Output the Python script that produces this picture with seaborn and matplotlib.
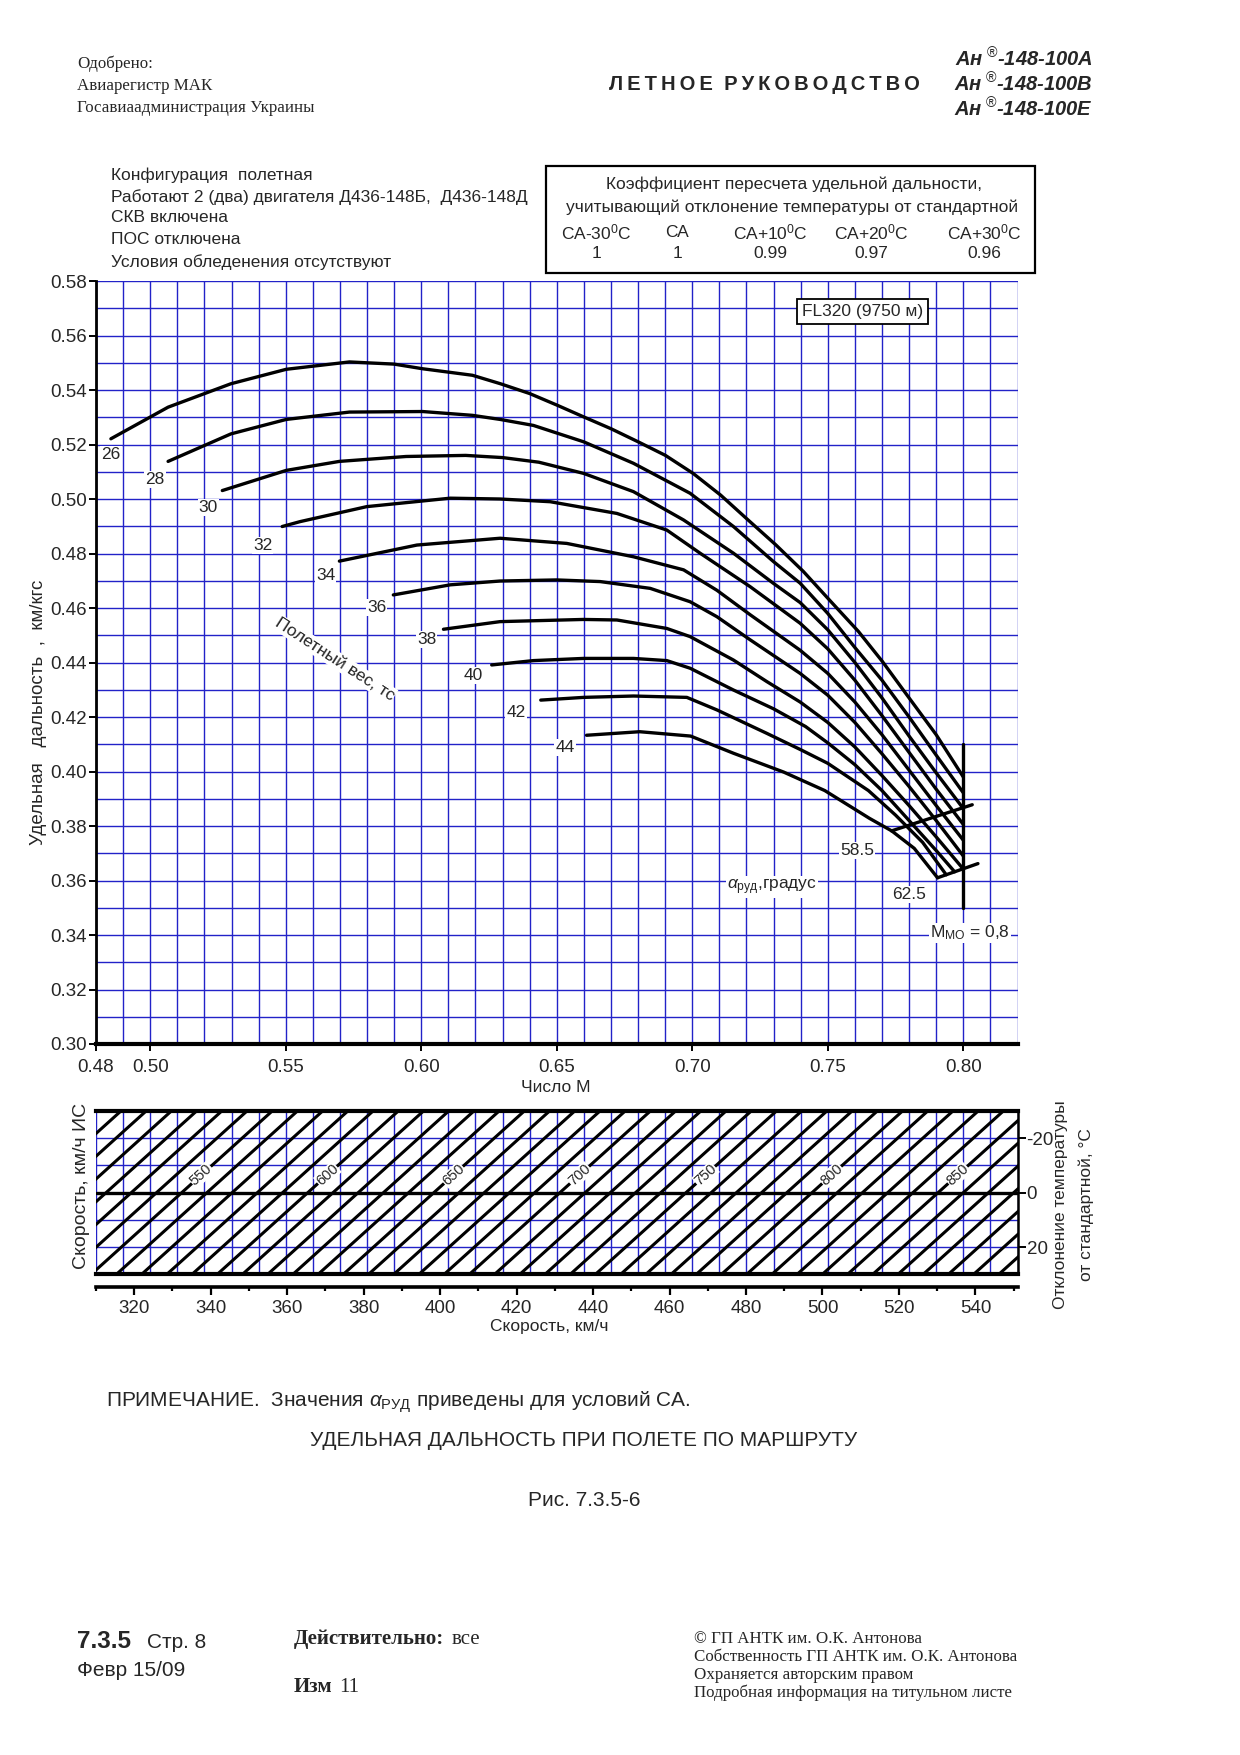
import numpy as np
import pandas as pd
import matplotlib
matplotlib.use("Agg")
import matplotlib.pyplot as plt
import seaborn as sns
from matplotlib.patches import Rectangle

# ---------------- data ----------------
weights = [26, 28, 30, 32, 34, 36, 38, 40, 42, 44]

m26 = [.4855, .5066, .5298, .5502, .5735, .5900, .6005, .6189, .6292, .6400, .6502, .6600, .6700, .6800,
       .6901, .7003, .7105, .7206, .7308, .7410, .7511, .7613, .7702, .7800, .7900, .8000]
s26 = [.5221, .5337, .5423, .5476, .5503, .5495, .5478, .5454, .5423, .5387, .5344, .5301, .5258, .5210,
       .5160, .5094, .5014, .4923, .4832, .4734, .4624, .4514, .4403, .4270, .4135, .3980]
m28 = [.5066, .5298, .5502, .5735, .6005, .6189, .6291, .6414, .6599, .6783, .6992, .7152, .7300, .7398,
       .7500, .7600, .7700, .7800, .7900, .8000]
s28 = [.5138, .5239, .5292, .5319, .5321, .5307, .5292, .5270, .5210, .5131, .5021, .4899, .4770, .4691,
       .4580, .4455, .4335, .4200, .4060, .3922]
m30 = [.5266, .5502, .5698, .5944, .6164, .6300, .6434, .6599, .6783, .6968, .7152, .7300, .7398, .7500,
       .7600, .7700, .7800, .7900, .8000]
s30 = [.5031, .5105, .5138, .5156, .5160, .5152, .5135, .5094, .5027, .4923, .4801, .4690, .4620, .4520,
       .4400, .4270, .4130, .3995, .3864]
m32 = [.5487, .5553, .5799, .6107, .6291, .6476, .6722, .6906, .7029, .7214, .7398, .7500, .7600, .7700,
       .7800, .7900, .8000]
s32 = [.4899, .4917, .4972, .5003, .5000, .4990, .4947, .4886, .4801, .4678, .4544, .4450, .4335, .4205,
       .4070, .3935, .3806]
m34 = [.5698, .5984, .6291, .6537, .6783, .6968, .7091, .7214, .7398, .7500, .7600, .7700, .7800, .7900, .8000]
s34 = [.4772, .4831, .4856, .4837, .4788, .4740, .4665, .4575, .4445, .4360, .4255, .4135, .4005, .3875, .3748]
m36 = [.5897, .6107, .6291, .6500, .6660, .6845, .6992, .7091, .7214, .7398, .7500, .7600, .7700, .7800,
       .7900, .8000]
s36 = [.4648, .4685, .4699, .4703, .4697, .4672, .4623, .4568, .4483, .4360, .4280, .4180, .4065, .3945,
       .3820, .3690]
m38 = [.6082, .6291, .6599, .6722, .6906, .6992, .7152, .7275, .7398, .7500, .7600, .7700, .7800, .7900, .8000]
s38 = [.4522, .4550, .4558, .4556, .4525, .4495, .4409, .4330, .4255, .4180, .4090, .3985, .3875, .3760, .3642]
m40 = [.6260, .6414, .6599, .6783, .6906, .6992, .7152, .7300, .7418, .7500, .7600, .7700, .7800, .7900, .7968]
s40 = [.4391, .4407, .4415, .4415, .4407, .4379, .4299, .4230, .4165, .4105, .4025, .3930, .3820, .3710, .3632]
m42 = [.6441, .6599, .6783, .6980, .7091, .7275, .7400, .7500, .7650, .7750, .7850, .7937]
s42 = [.4262, .4272, .4277, .4272, .4226, .4140, .4080, .4030, .3930, .3840, .3740, .3621]
m44 = [.6610, .6806, .6994, .7152, .7337, .7489, .7654, .7736, .7819, .7905]
s44 = [.4133, .4146, .4130, .4067, .3998, .3930, .3828, .3782, .3718, .3610]

curves_m = [m26, m28, m30, m32, m34, m36, m38, m40, m42, m44]
curves_s = [s26, s28, s30, s32, s34, s36, s38, s40, s42, s44]

# throttle (alpha RUD) lines and M_MO limit
alpha_values = ["58.5", "62.5"]
alpha585_m = [0.7735, 0.8033]
alpha585_sr = [0.3782, 0.3878]
alpha625_m = [0.7905, 0.8054]
alpha625_sr = [0.3610, 0.3662]
mmo_m = [0.80, 0.80]
mmo_sr = [0.35, 0.41]

mach_ticks = [0.48, 0.50, 0.55, 0.60, 0.65, 0.70, 0.75, 0.80]
sr_ticks = [0.30, 0.32, 0.34, 0.36, 0.38, 0.40, 0.42, 0.44, 0.46, 0.48, 0.50, 0.52, 0.54, 0.56, 0.58]

# true airspeed isolines (km/h) of the lower nomogram
tas_lines = [480, 490, 500, 510, 520, 530, 540, 550, 560, 570, 580, 590, 600, 610, 620, 630, 640, 650, 660,
             670, 680, 690, 700, 710, 720, 730, 740, 750, 760, 770, 780, 790, 800, 810, 820, 830, 840,
             850, 860, 870, 880, 890, 900, 910, 920]
tas_labels = [550, 600, 650, 700, 750, 800, 850]
TAS_PER_MACH = 1075.0      # km/h per unit Mach at standard temperature
MACH_PER_DEG = 0.001113    # horizontal shift of an isoline per degree of deviation
dT_ticks = [-20, 0, 20]
dT_minor = [-10, 10]
ias_ticks = [320, 340, 360, 380, 400, 420, 440, 460, 480, 500, 520, 540]
ias_minor = [310, 330, 350, 370, 390, 410, 430, 450, 470, 490, 510, 530, 550]

temp_headers = ["СА-30$^\\mathregular{0}$С", "СА", "СА+10$^\\mathregular{0}$С",
                "СА+20$^\\mathregular{0}$С", "СА+30$^\\mathregular{0}$С"]
temp_factors = ["1", "1", "0.99", "0.97", "0.96"]

config_lines = ["Конфигурация  полетная",
                "Работают 2 (два) двигателя Д436-148Б,  Д436-148Д",
                "СКВ включена",
                "ПОС отключена",
                "Условия обледенения отсутствуют"]

# ---------------- style ----------------
sns.set_theme(style="ticks")
plt.rcParams["font.family"] = ["Liberation Sans", "DejaVu Sans"]
plt.rcParams["mathtext.fontset"] = "custom"
plt.rcParams["mathtext.rm"] = "Liberation Sans"
plt.rcParams["mathtext.it"] = "Liberation Sans:italic"
plt.rcParams["mathtext.bf"] = "Liberation Sans:bold"
plt.rcParams["axes.unicode_minus"] = False

W, H = 1240, 1755
fig = plt.figure(figsize=(W / 100, H / 100), dpi=100)
fig.patch.set_facecolor("white")


def fx(x):
    return x / W


def fy(y):
    return 1 - y / H


BLUE = "#2222c8"
FS = 12.5
SERIF = ["Liberation Serif", "DejaVu Serif"]
L, R = 96, 1017.5

# ---------------- main chart ----------------
ax = fig.add_axes([fx(L), fy(1044), fx(R) - fx(L), (1044 - 281) / H])
rows = []
for w, ms, ss in zip(weights, curves_m, curves_s):
    for m, s in zip(ms, ss):
        rows.append((w, m, s))
df = pd.DataFrame(rows, columns=["w", "M", "SR"])
sns.lineplot(data=df, x="M", y="SR", units="w", estimator=None, sort=False,
             color="black", lw=2.4, ax=ax, legend=False, zorder=4)

ax.plot(alpha585_m, alpha585_sr, color="black", lw=2.4, zorder=4)
ax.plot(alpha625_m, alpha625_sr, color="black", lw=2.4, zorder=4)
ax.plot(mmo_m, mmo_sr, color="black", lw=2.4, zorder=4)

ax.set_xlim(0.48, 0.82)
ax.set_ylim(0.30, 0.58)
ax.set_xticks(mach_ticks)
ax.set_xticklabels([f"{t:.2f}" for t in mach_ticks])
ax.set_xticks(np.arange(0.48, 0.8205, 0.01), minor=True)
ax.set_yticks(sr_ticks)
ax.set_yticklabels([f"{t:.2f}" for t in sr_ticks])
ax.set_yticks(np.arange(0.30, 0.5805, 0.01), minor=True)
ax.grid(which="both", color=BLUE, lw=1.0)
ax.set_axisbelow(True)
ax.tick_params(which="minor", length=0)
ax.tick_params(which="major", direction="out", length=4.8, width=1.4, color="black", labelsize=13.5)
ax.tick_params(axis="x", which="major", pad=6)
ax.tick_params(axis="y", which="major", pad=2)
ax.set_xlabel("")
ax.set_ylabel("")
for sp in ["top", "right"]:
    ax.spines[sp].set_visible(False)
ax.spines["left"].set_linewidth(2.0)
ax.spines["bottom"].set_linewidth(3.0)
ax.spines["left"].set_color("black")
ax.spines["bottom"].set_color("black")

lab_box = dict(facecolor="white", edgecolor="none", pad=0.8)
label_pos = [(.4855, .5164), (.5018, .5073), (.5214, .4970), (.5415, .4831), (.5648, .4720),
             (.5836, .4602), (.6020, .4483), (.6192, .4352), (.6350, .4218), (.6531, .4087)]
for w, (lm, ls) in zip(weights, label_pos):
    ax.text(lm, ls, str(w), fontsize=FS, ha="center", va="center", bbox=lab_box, zorder=5)

ax.text(0.5680, 0.4413, "Полетный вес, тс", rotation=-33, fontsize=FS, ha="center", va="center",
        bbox=lab_box, zorder=5)
ax.text(0.7608, 0.3710, alpha_values[0], fontsize=FS, ha="center", va="center", bbox=lab_box, zorder=5)
ax.text(0.7799, 0.3550, alpha_values[1], fontsize=FS, ha="center", va="center", bbox=lab_box, zorder=5)
ax.text(0.7294, 0.3575, "$\\alpha_{\\mathregular{руд}}$,градус", fontsize=FS, ha="center", va="center",
        bbox=lab_box, zorder=5)
ax.text(0.8025, 0.3407, "М$_{\\mathregular{МО}}$ = 0,8", fontsize=FS, ha="center", va="center",
        bbox=lab_box, zorder=5)
ax.text(0.7627, 0.5687, "FL320 (9750 м)", fontsize=FS, ha="center", va="center",
        bbox=dict(facecolor="white", edgecolor="black", lw=1.3, pad=3.5), zorder=5)

# ---------------- temperature / TAS nomogram ----------------
ax2 = fig.add_axes([fx(L), fy(1274.3), fx(R) - fx(L), (1274.3 - 1111) / H])
rows2 = []
for v in tas_lines:
    for t in (-30.0, 30.0):
        rows2.append((v, v / TAS_PER_MACH - MACH_PER_DEG * t, t))
df2 = pd.DataFrame(rows2, columns=["TAS", "M", "dT"])
sns.lineplot(data=df2, x="M", y="dT", units="TAS", estimator=None, sort=False,
             color="black", lw=2.2, ax=ax2, legend=False, zorder=3)
ax2.set_xlim(0.48, 0.82)
ax2.set_ylim(30, -30)
ax2.set_xticks([])
ax2.set_xticks(np.arange(0.48, 0.8205, 0.01), minor=True)
ax2.set_yticks(dT_ticks)
ax2.set_yticklabels([str(t) for t in dT_ticks])
ax2.set_yticks(dT_minor, minor=True)
ax2.grid(which="both", color=BLUE, lw=1.0)
ax2.set_axisbelow(True)
ax2.axhline(0, color="black", lw=2.4, zorder=4)
ax2.yaxis.tick_right()
ax2.tick_params(axis="y", which="major", direction="out", length=5.5, width=1.4, color="black",
                labelsize=13.5, pad=1, right=True, left=False)
ax2.tick_params(which="minor", length=0)
ax2.tick_params(axis="x", bottom=False, top=False)
ax2.set_xlabel("")
ax2.set_ylabel("")
ax2.spines["left"].set_visible(False)
ax2.spines["top"].set_linewidth(3.0)
ax2.spines["bottom"].set_linewidth(3.0)
ax2.spines["right"].set_linewidth(1.8)
for sp in ["top", "bottom", "right"]:
    ax2.spines[sp].set_color("black")

for v in tas_labels:
    t0 = -6.5
    m0 = v / TAS_PER_MACH - MACH_PER_DEG * t0
    p1 = ax2.transData.transform((v / TAS_PER_MACH + MACH_PER_DEG * 20, -20))
    p2 = ax2.transData.transform((v / TAS_PER_MACH - MACH_PER_DEG * 20, 20))
    ang = np.degrees(np.arctan2(p1[1] - p2[1], p1[0] - p2[0]))
    ax2.text(m0, t0, str(v), rotation=ang, rotation_mode="anchor", fontsize=10.5,
             ha="center", va="center", bbox=dict(facecolor="white", edgecolor="none", pad=0.3), zorder=5)

# ---------------- IAS scale ----------------
ax3 = fig.add_axes([fx(L), fy(1287.3), fx(R) - fx(L), 0.001])
ax3.set_xlim(310.0, 551.0)
ax3.set_yticks([])
ax3.patch.set_visible(False)
for sp in ["top", "left", "right"]:
    ax3.spines[sp].set_visible(False)
ax3.spines["bottom"].set_linewidth(2.6)
ax3.spines["bottom"].set_color("black")
ax3.set_xticks(ias_ticks)
ax3.set_xticklabels([str(t) for t in ias_ticks])
ax3.set_xticks(ias_minor, minor=True)
ax3.tick_params(axis="x", which="major", direction="out", length=5.5, width=1.6, color="black",
                labelsize=13.5, pad=3.5)
ax3.tick_params(axis="x", which="minor", direction="out", length=3.0, width=1.6, color="black")

# ---------------- axis titles ----------------
fig.text(fx(39), fy(712), "Удельная   дальность  ,  км/кгс", rotation=90, fontsize=13.5,
         ha="center", va="center")
fig.text(fx(556), fy(1088), "Число М", fontsize=FS, ha="center", va="center")
fig.text(fx(81), fy(1186), "Скорость, км/ч ИС", rotation=90, fontsize=14, ha="center", va="center")
fig.text(fx(549), fy(1326), "Скорость, км/ч", fontsize=FS, ha="center", va="center")
fig.text(fx(1061), fy(1205), "Отклонение температуры", rotation=90, fontsize=FS, ha="center", va="center")
fig.text(fx(1086), fy(1205), "от стандартной, °С", rotation=90, fontsize=FS, ha="center", va="center")

# ---------------- header ----------------
fig.text(fx(77), fy(64), "Одобрено:", family=SERIF, fontsize=12.2, ha="left", va="center")
fig.text(fx(77), fy(85.5), "Авиарегистр МАК", family=SERIF, fontsize=12.2, ha="left", va="center")
fig.text(fx(77), fy(107.5), "Госавиаадминистрация Украины", family=SERIF, fontsize=12.2, ha="left", va="center")
title = "  ".join("\u2009".join(word) for word in "ЛЕТНОЕ РУКОВОДСТВО".split())
fig.text(fx(764), fy(84), title, fontsize=14.5, fontweight="bold", ha="center", va="center")
for yy, suf in zip([59, 84, 108.5], ["А", "В", "Е"]):
    fig.text(fx(1093), fy(yy), "Ан\u2009$^{\\circledR}$-148-100" + suf, fontsize=14.5, fontweight="bold",
             style="italic", ha="right", va="center")

for i, line in enumerate(config_lines):
    fig.text(fx(111), fy([175.7, 197, 218, 239.5, 262][i]), line, fontsize=FS, ha="left", va="center")

fig.add_artist(Rectangle((fx(546), fy(273)), fx(1035) - fx(546), (273 - 165.6) / H,
                         transform=fig.transFigure, fill=False, lw=1.6, edgecolor="black"))
fig.text(fx(794), fy(184.6), "Коэффициент пересчета удельной дальности,", fontsize=FS, ha="center", va="center")
fig.text(fx(792), fy(207), "учитывающий отклонение температуры от стандартной", fontsize=FS,
         ha="center", va="center")
for xx, hd, fc in zip([596.4, 677, 770, 871.7, 984.7], temp_headers, temp_factors):
    fig.text(fx(xx), fy(232.8), hd, fontsize=FS, ha="center", va="center")
    fig.text(fx(xx), fy(253), fc, fontsize=FS, ha="center", va="center")

# ---------------- notes / footer ----------------
fig.text(fx(106), fy(1402), "ПРИМЕЧАНИЕ.  Значения $\\alpha_{\\mathregular{РУД}}$ приведены для условий СА.",
         fontsize=15, ha="left", va="center")
fig.text(fx(584), fy(1441), "УДЕЛЬНАЯ ДАЛЬНОСТЬ ПРИ ПОЛЕТЕ ПО МАРШРУТУ", fontsize=15, ha="center", va="center")
fig.text(fx(584), fy(1500.6), "Рис. 7.3.5-6", fontsize=15, ha="center", va="center")

fig.text(fx(77), fy(1641.6), "7.3.5", fontsize=17.5, fontweight="bold", ha="left", va="center")
fig.text(fx(147), fy(1642.5), "Стр. 8", fontsize=15, ha="left", va="center")
fig.text(fx(77), fy(1670.7), "Февр 15/09", fontsize=15, ha="left", va="center")
fig.text(fx(294), fy(1639), "Действительно:", family=SERIF, fontsize=15, fontweight="bold", ha="left", va="center")
fig.text(fx(452), fy(1639), "все", family=SERIF, fontsize=15, ha="left", va="center")
fig.text(fx(294), fy(1687.5), "Изм", family=SERIF, fontsize=15, fontweight="bold", ha="left", va="center")
fig.text(fx(339), fy(1687.5), "11", family=SERIF, fontsize=15, ha="left", va="center")
for yy, line in zip([1639, 1657, 1675, 1693],
                    ["© ГП АНТК им. О.К. Антонова", "Собственность ГП АНТК им. О.К. Антонова",
                     "Охраняется авторским правом", "Подробная информация на титульном листе"]):
    fig.text(fx(694), fy(yy), line, family=SERIF, fontsize=12.2, ha="left", va="center")

fig.savefig("out.png", dpi=100, facecolor="white")
